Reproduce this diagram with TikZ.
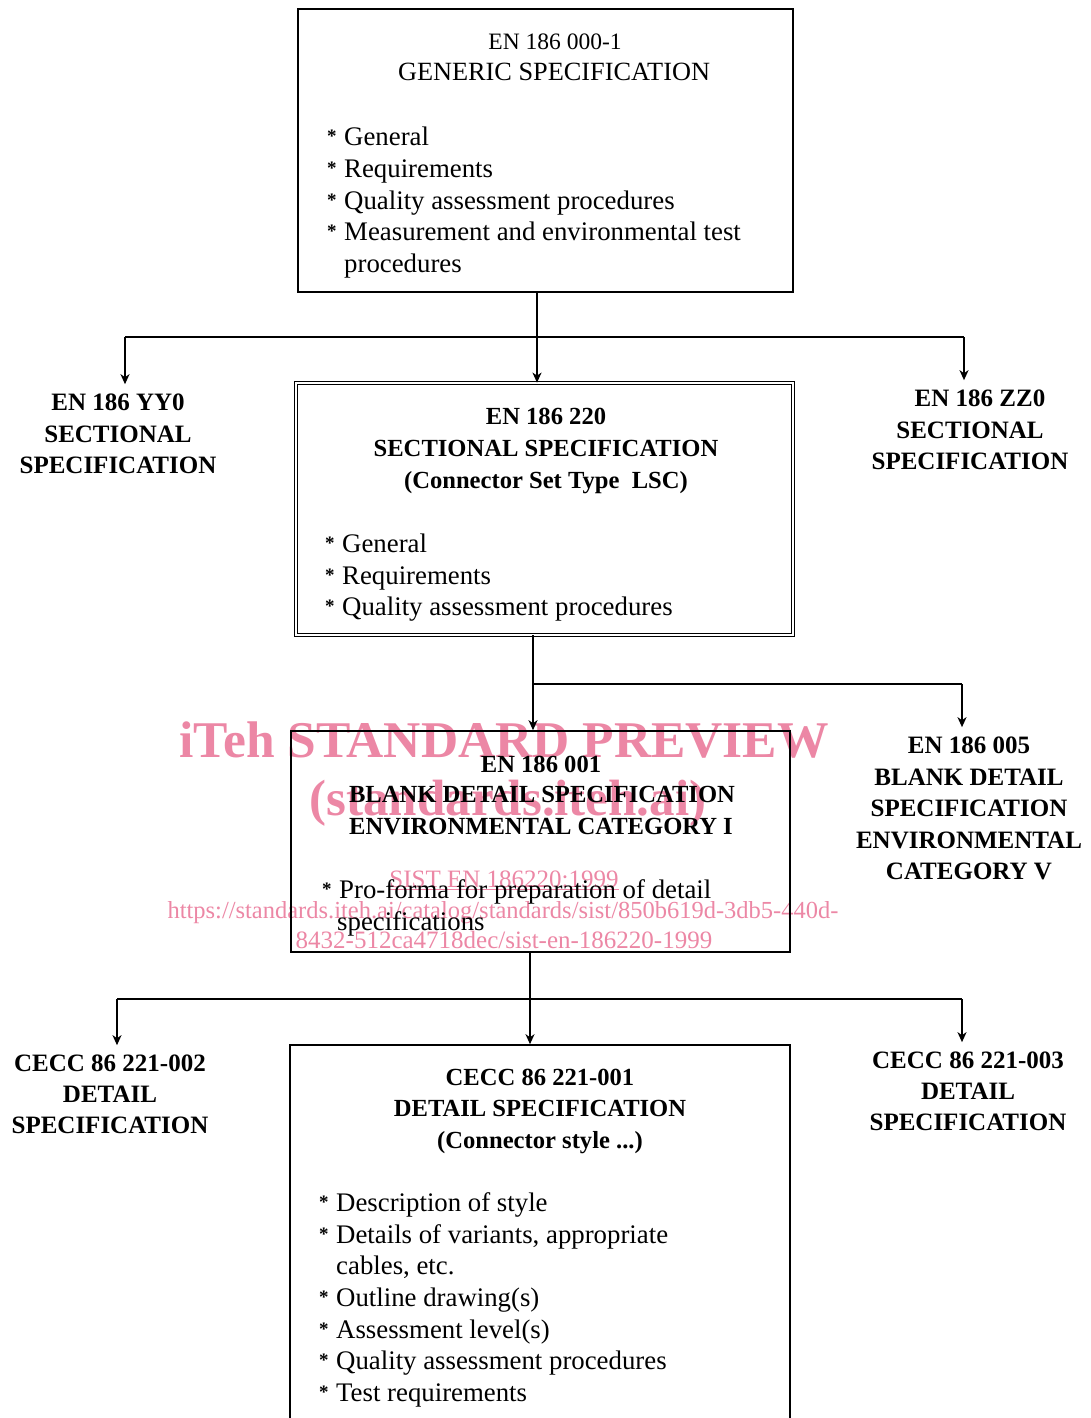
\documentclass[tikz,border=0pt]{standalone}
\usepackage{fontspec}
\setmainfont{Liberation Serif}
\usetikzlibrary{arrows.meta}
\definecolor{wm}{RGB}{236,135,165}
\newcommand\bitem[1]{\makebox[17pt][l]{\raisebox{3pt}{\fontsize{19}{19}\selectfont\bfseries *}}#1}
\begin{document}
\begin{tikzpicture}[x=1pt,y=-1pt,
  box/.style={draw, line width=1.6pt, inner sep=0, rectangle},
  hd/.style={font=\fontsize{24.6}{30}\selectfont\bfseries, anchor=base, inner sep=0},
  hr/.style={font=\fontsize{26.3}{30}\selectfont, anchor=base, inner sep=0},
  it/.style={font=\fontsize{26.8}{31}\selectfont, anchor=base west, inner sep=0},
  lb/.style={font=\fontsize{25}{30}\selectfont\bfseries, anchor=base, inner sep=0},
  lbt/.style={lb, inner ysep=9pt},
  ln/.style={line width=1.6pt},
  arr/.style={ln, -{Stealth[length=10pt,width=9pt,inset=3pt]}},
  wmt/.style={text=wm, inner sep=0, anchor=base}
]
\useasboundingbox (0,0) rectangle (1090,1418);
\clip (0,0) rectangle (1090,1418);

% watermark (beneath)
\node[wmt, font=\fontsize{51.5}{60}\selectfont\bfseries] (w1) at (504,757) {iTeh STANDARD PREVIEW};
\node[wmt, font=\fontsize{51}{60}\selectfont\bfseries] (w2) at (508,815) {(standards.iteh.ai)};
\node[wmt, font=\fontsize{25}{30}\selectfont] (w3) at (504,887) {\underline{SIST EN 186220:1999}};
\node[wmt, font=\fontsize{24.5}{30}\selectfont] (w4) at (503,918) {https://standards.iteh.ai/catalog/standards/sist/850b619d-3db5-440d-};
\node[wmt, font=\fontsize{25}{30}\selectfont] (w5) at (504,948) {8432-512ca4718dec/sist-en-186220-1999};

% generic specification
\node[box, minimum width=495pt, minimum height=283pt] (gen) at (545.5,150.5) {};
\node[hr, font=\fontsize{23.5}{30}\selectfont] (g1) at (555,50) {EN 186 000-1};
\node[hr] (g2) at (554,81) {GENERIC SPECIFICATION};
\node[it] (g3) at (327,146) {\bitem{General}};
\node[it] (g4) at (327,177) {\bitem{Requirements}};
\node[it] (g5) at (327,209) {\bitem{Quality assessment procedures}};
\node[it] (g6) at (327,240) {\bitem{Measurement and environmental test}};
\node[it] (g7) at (344,272) {procedures};

% sectional specification
\node[box, double, double distance=2pt, line width=1.2pt, minimum width=497pt, minimum height=251.6pt] (sec) at (544.5,509) {};
\node[hd] (s1) at (546,424) {EN 186 220};
\node[hd] (s2) at (546,456) {SECTIONAL SPECIFICATION};
\node[hd] (s3) at (546,488) {(Connector Set Type\ \ LSC)};
\node[it] (s4) at (325,552) {\bitem{General}};
\node[it] (s5) at (325,584) {\bitem{Requirements}};
\node[it] (s6) at (325,615) {\bitem{Quality assessment procedures}};

\node[lbt] (l1a) at (118,410) {EN 186 YY0};
\node[lb] (l1b) at (118,442) {SECTIONAL};
\node[lb] (l1c) at (118,473) {SPECIFICATION};
\node[lbt] (r1a) at (980,406) {EN 186 ZZ0};
\node[lb] (r1b) at (970,438) {SECTIONAL};
\node[lb] (r1c) at (970,469) {SPECIFICATION};

% blank detail specification
\node[box, minimum width=499pt, minimum height=221pt] (bds) at (540.5,841.5) {};
\node[hd] (b1) at (541,772) {EN 186 001};
\node[hd] (b2) at (542,802) {BLANK DETAIL SPECIFICATION};
\node[hd] (b3) at (541,834) {ENVIRONMENTAL CATEGORY I};
\node[it] (b4) at (322,898) {\bitem{Pro-forma for preparation of detail}};
\node[it] (b5) at (337,930) {specifications};

\node[lbt] (r2a) at (969,753) {EN 186 005};
\node[lb] (r2b) at (969,785) {BLANK DETAIL};
\node[lb] (r2c) at (969,816) {SPECIFICATION};
\node[lb] (r2d) at (969,848) {ENVIRONMENTAL};
\node[lb] (r2e) at (969,879) {CATEGORY V};

% detail specification
\node[box, minimum width=500pt, minimum height=400pt] (det) at (540,1245) {};
\node[hd] (d1) at (540,1085) {CECC 86 221-001};
\node[hd] (d2) at (540,1116) {DETAIL SPECIFICATION};
\node[hd] (d3) at (540,1148) {(Connector style ...)};
\node[it] (d4) at (319,1211) {\bitem{Description of style}};
\node[it] (d5) at (319,1243) {\bitem{Details of variants, appropriate}};
\node[it] (d6) at (336,1274) {cables, etc.};
\node[it] (d7) at (319,1306) {\bitem{Outline drawing(s)}};
\node[it] (d8) at (319,1338) {\bitem{Assessment level(s)}};
\node[it] (d9) at (319,1369) {\bitem{Quality assessment procedures}};
\node[it] (d10) at (319,1401) {\bitem{Test requirements}};

\node[lbt] (l3a) at (110,1071) {CECC 86 221-002};
\node[lb] (l3b) at (110,1102) {DETAIL};
\node[lb] (l3c) at (110,1133) {SPECIFICATION};
\node[lbt] (r3a) at (968,1068) {CECC 86 221-003};
\node[lb] (r3b) at (968,1099) {DETAIL};
\node[lb] (r3c) at (968,1130) {SPECIFICATION};

% connectors level 1
\coordinate (j1) at (537,337);
\coordinate (j1l) at (125,337);
\coordinate (j1r) at (964,337);
\draw[ln] (gen.south -| j1) -- (j1);
\draw[ln] (j1l) -- (j1r);
\draw[arr] (j1) -- (j1 |- sec.north);
\draw[arr] (j1l) -- (j1l |- l1a.north);
\draw[arr] (j1r) -- (j1r |- r1a.north);

% connectors level 2
\coordinate (j2) at (533,684);
\coordinate (j2r) at (962,684);
\draw[arr] (sec.south -| j2) -- (j2 |- bds.north);
\draw[ln] (j2) -- (j2r);
\draw[arr] (j2r) -- (j2r |- r2a.north);

% connectors level 3
\coordinate (j3) at (530,999);
\coordinate (j3l) at (117,999);
\coordinate (j3r) at (962,999);
\draw[ln] (bds.south -| j3) -- (j3);
\draw[ln] (j3l) -- (j3r);
\draw[arr] (j3) -- (j3 |- det.north);
\draw[arr] (j3l) -- (j3l |- l3a.north);
\draw[arr] (j3r) -- (j3r |- r3a.north);
\end{tikzpicture}
\end{document}
